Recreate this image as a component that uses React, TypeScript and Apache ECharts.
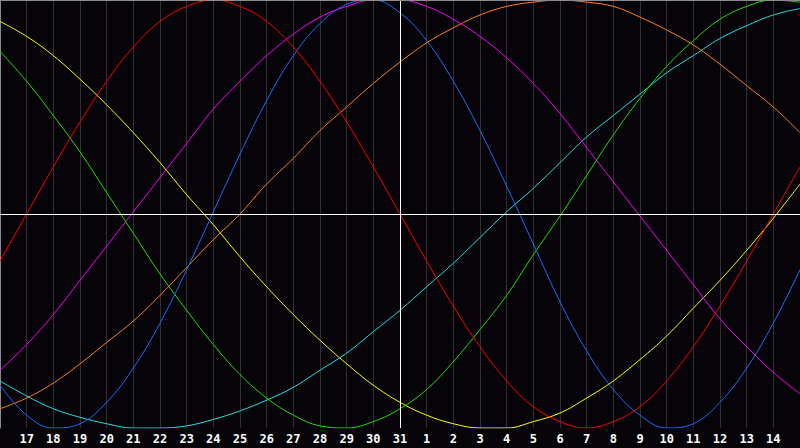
import { useEffect, useRef } from "react";
import * as echarts from "echarts";

// ── Data (one value per day) ──────────────────────────────────────────────────
const DAYS = [
  "16", "17", "18", "19", "20", "21", "22", "23", "24", "25", "26", "27", "28", "29", "30", "31",
  "1", "2", "3", "4", "5", "6", "7", "8", "9", "10", "11", "12", "13", "14", "15",
];

const RED = [
  -0.22, 0, 0.22, 0.43, 0.62, 0.78, 0.9, 0.97, 1, 0.97, 0.9, 0.78, 0.62, 0.43, 0.22, 0,
  -0.22, -0.43, -0.62, -0.78, -0.9, -0.97, -1, -0.97, -0.9, -0.78, -0.62, -0.43, -0.22, 0, 0.22,
];
const BLUE = [
  -0.8, -0.94, -1, -0.98, -0.88, -0.72, -0.51, -0.26, 0.01, 0.28, 0.53, 0.74, 0.89, 0.98, 1, 0.94,
  0.81, 0.62, 0.39, 0.13, -0.14, -0.41, -0.64, -0.82, -0.94, -1, -0.98, -0.88, -0.72, -0.51, -0.26,
];
const GREEN = [
  0.76, 0.62, 0.46, 0.29, 0.1, -0.09, -0.28, -0.45, -0.61, -0.75, -0.86, -0.94, -0.99, -1, -0.97, -0.91,
  -0.82, -0.69, -0.54, -0.38, -0.19, -0.01, 0.18, 0.37, 0.54, 0.69, 0.81, 0.91, 0.97, 1, 0.99,
];
const MAGENTA = [
  -0.73, -0.61, -0.47, -0.31, -0.15, 0.01, 0.17, 0.33, 0.49, 0.62, 0.74, 0.84, 0.92, 0.97, 1, 1,
  0.97, 0.91, 0.83, 0.73, 0.61, 0.47, 0.31, 0.15, -0.01, -0.17, -0.33, -0.49, -0.62, -0.74, -0.84,
];
const YELLOW = [
  0.9, 0.83, 0.74, 0.63, 0.51, 0.38, 0.24, 0.09, -0.05, -0.2, -0.34, -0.47, -0.59, -0.7, -0.8, -0.88,
  -0.94, -0.98, -1, -1, -0.97, -0.93, -0.86, -0.78, -0.68, -0.57, -0.44, -0.31, -0.17, -0.02, 0.14,
];
const ORANGE = [
  -0.91, -0.86, -0.79, -0.7, -0.6, -0.5, -0.38, -0.25, -0.12, 0, 0.14, 0.26, 0.39, 0.5, 0.61, 0.71,
  0.8, 0.87, 0.93, 0.97, 0.99, 1, 0.99, 0.97, 0.92, 0.86, 0.79, 0.7, 0.6, 0.5, 0.38,
];
const CYAN = [
  -0.78, -0.85, -0.91, -0.95, -0.98, -1, -1, -0.99, -0.96, -0.92, -0.87, -0.81, -0.73, -0.65, -0.55, -0.45,
  -0.34, -0.23, -0.11, 0.01, 0.12, 0.24, 0.36, 0.46, 0.56, 0.66, 0.74, 0.82, 0.88, 0.93, 0.96,
];

const SERIES = [
  { name: "Cyan", data: CYAN, color: "#22e0e0" },
  { name: "Orange", data: ORANGE, color: "#ff8020" },
  { name: "Yellow", data: YELLOW, color: "#ffff00" },
  { name: "Magenta", data: MAGENTA, color: "#ff00ff" },
  { name: "Green", data: GREEN, color: "#22e000" },
  { name: "Blue", data: BLUE, color: "#1a6cff" },
  { name: "Red", data: RED, color: "#ff0000" },
];

const BG = "#060408";
const GRID_LINE = "#303030";
const BORDER = "#8a8a8a";

export default function App() {
  const ref = useRef<HTMLDivElement>(null);

  useEffect(() => {
    const el = ref.current;
    if (!el) return;
    const chart = echarts.init(el, null, { renderer: "svg" });
    chart.setOption({
      animation: false,
      backgroundColor: BG,
      grid: { left: 0, right: 0, top: 0, bottom: 20 },
      xAxis: {
        type: "category",
        data: DAYS,
        boundaryGap: false,
        axisLine: { show: true, lineStyle: { color: BORDER, width: 1 } },
        axisTick: { show: false },
        axisLabel: {
          interval: (idx: number) => idx > 0 && idx < DAYS.length - 1,
          color: "#ffffff",
          fontFamily: "DejaVu Sans Mono",
          fontWeight: "bold",
          fontSize: 12,
          margin: 5,
        },
        splitLine: { show: true, interval: 0, lineStyle: { color: GRID_LINE, width: 1 } },
      },
      yAxis: {
        type: "value",
        min: -1,
        max: 1,
        axisLine: { show: true, lineStyle: { color: BORDER, width: 1 } },
        axisTick: { show: false },
        axisLabel: { show: false },
        splitLine: { show: false },
      },
      series: [
        {
          type: "line",
          data: [],
          silent: true,
          z: 1,
          markLine: {
            silent: true,
            symbol: "none",
            label: { show: false },
            data: [
              { xAxis: "31", lineStyle: { color: "#ffffff", width: 1, type: "solid" } },
              { yAxis: 0, lineStyle: { color: "#ffffff", width: 1, type: "solid" } },
              { yAxis: 1, lineStyle: { color: BORDER, width: 1, type: "solid" } },
            ],
          },
        },
        ...SERIES.map((s) => ({
          name: s.name,
          type: "line",
          data: s.data,
          smooth: 0.4,
          showSymbol: false,
          z: 2,
          lineStyle: { color: s.color, width: 1 },
          itemStyle: { color: s.color },
        })),
      ],
    });
    return () => chart.dispose();
  }, []);

  return (
    <div
      ref={ref}
      style={{ position: "fixed", left: 0, top: 0, width: 800, height: 448, background: BG }}
    />
  );
}
